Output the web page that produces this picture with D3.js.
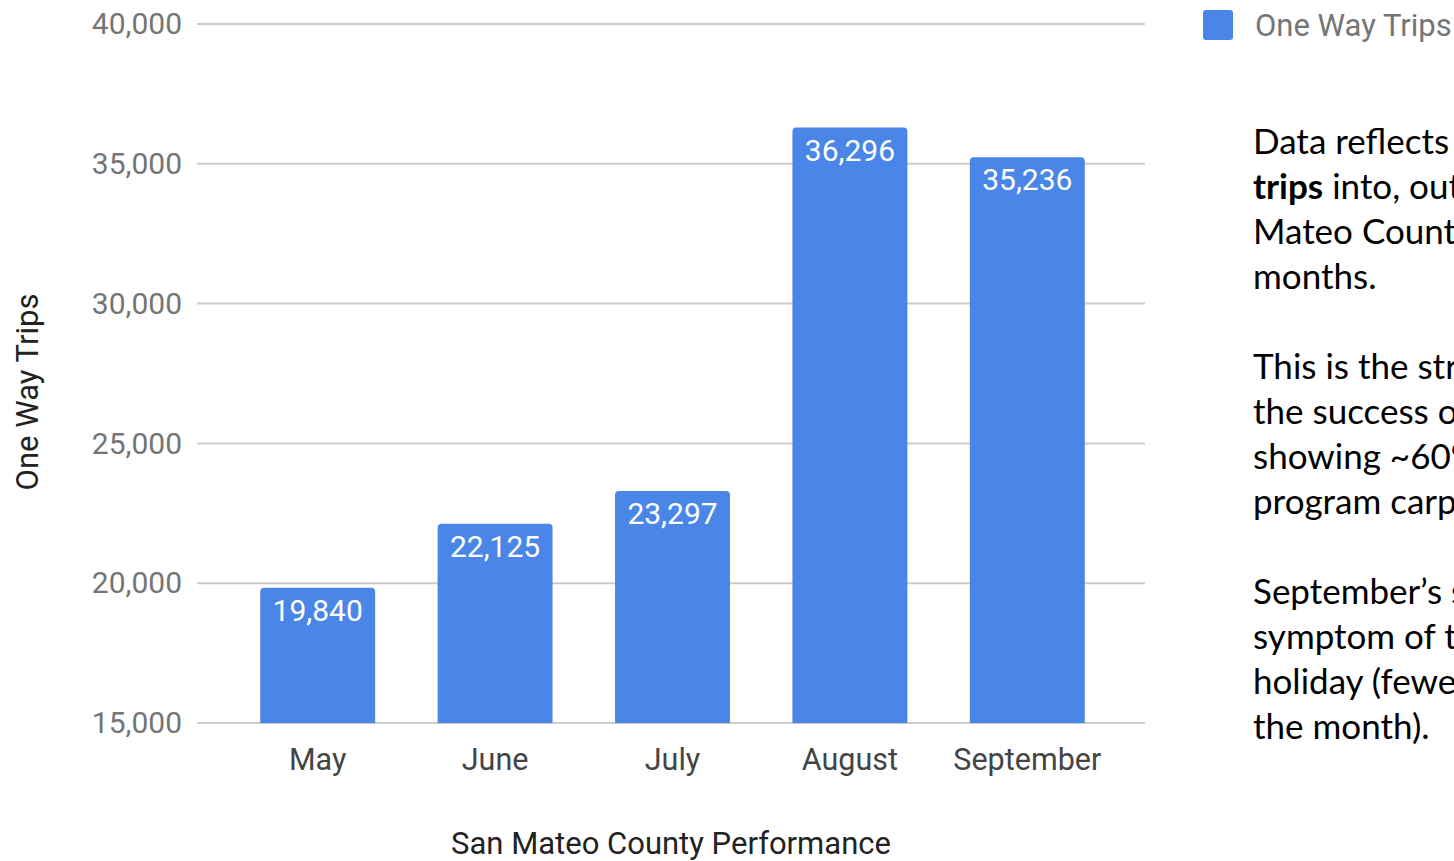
<!DOCTYPE html>
<html>
<head>
<meta charset="utf-8">
<script src="https://cdn.jsdelivr.net/npm/d3@7"></script>
<style>
  body { margin: 0; background: #fff; overflow: hidden; }
  svg { display: block; }
</style>
</head>
<body>
<script>
// chart data
var months = ["May", "June", "July", "August", "September"];
var trips = [19840, 22125, 23297, 36296, 35236];
var yTicks = [15000, 20000, 25000, 30000, 35000, 40000];
var seriesName = "One Way Trips";
var xTitle = "San Mateo County Performance";
var yTitle = "One Way Trips";

// side note, each line is a list of [text, bold]
var noteLines = [
  [["Data reflects Scoop carpool", false]],
  [["trips", true], [" into, out of, and within San", false]],
  [["Mateo County over the last five", false]],
  [["months.", false]],
  [],
  [["This is the strongest indicator of", false]],
  [["the success of the program, with", false]],
  [["showing ~60% growth since the", false]],
  [["program carpool launch.", false]],
  [],
  [["September\u2019s slight dip is a", false]],
  [["symptom of the Labor Day", false]],
  [["holiday (fewer work days in", false]],
  [["the month).", false]]
];

var W = 1454, H = 861;
var blue = "#4a86e8";

var svg = d3.select("body").append("svg")
    .attr("width", W)
    .attr("height", H);

var x = d3.scaleBand()
    .domain(months)
    .range([229, 1116])
    .paddingInner(0.352)
    .paddingOuter(0.176);

var y = d3.scaleLinear()
    .domain([15000, 40000])
    .range([723, 24]);

var fmt = d3.format(",");

// gridlines
svg.append("g")
  .selectAll("line")
  .data(yTicks)
  .join("line")
    .attr("x1", 197)
    .attr("x2", 1145)
    .attr("y1", d => y(d))
    .attr("y2", d => y(d))
    .attr("stroke", "#cccccc")
    .attr("stroke-width", 2);

// y axis labels
var yAxis = svg.append("g")
    .attr("transform", "translate(182,0)")
    .call(d3.axisLeft(y).tickValues(yTicks).tickFormat(fmt).tickSize(0).tickPadding(0));
yAxis.select(".domain").remove();
yAxis.selectAll("text")
    .attr("font-family", "Roboto")
    .attr("font-size", 30)
    .attr("fill", "#757575");

// bars with rounded tops
var r = 4;
svg.append("g")
  .selectAll("path")
  .data(trips)
  .join("path")
    .attr("fill", blue)
    .attr("d", function(d, i) {
      var x0 = x(months[i]), x1 = x0 + x.bandwidth();
      var t = y(d), b = y(15000);
      return "M" + x0 + "," + b + "V" + (t + r) +
        "Q" + x0 + "," + t + " " + (x0 + r) + "," + t +
        "H" + (x1 - r) +
        "Q" + x1 + "," + t + " " + x1 + "," + (t + r) +
        "V" + b + "Z";
    });

// value labels
svg.append("g")
  .selectAll("text")
  .data(trips)
  .join("text")
    .attr("x", (d, i) => x(months[i]) + x.bandwidth() / 2)
    .attr("y", d => y(d) + 33)
    .attr("text-anchor", "middle")
    .attr("font-family", "Roboto")
    .attr("font-size", 30)
    .attr("fill", "#ffffff")
    .text(d => fmt(d));

// x axis labels
var xAxis = svg.append("g")
    .attr("transform", "translate(0,723)")
    .call(d3.axisBottom(x).tickSize(0).tickPadding(47));
xAxis.select(".domain").remove();
xAxis.selectAll("text")
    .attr("dy", 0)
    .attr("font-family", "Roboto")
    .attr("font-size", 30.5)
    .attr("fill", "#444444");

// axis titles
svg.append("text")
    .attr("x", 671)
    .attr("y", 854)
    .attr("text-anchor", "middle")
    .attr("font-family", "Roboto")
    .attr("font-size", 31)
    .attr("fill", "#222222")
    .text(xTitle);

svg.append("text")
    .attr("transform", "translate(38,392) rotate(-90)")
    .attr("text-anchor", "middle")
    .attr("font-family", "Roboto")
    .attr("font-size", 31)
    .attr("fill", "#222222")
    .text(yTitle);

// legend
svg.append("rect")
    .attr("x", 1203)
    .attr("y", 10)
    .attr("width", 30)
    .attr("height", 30)
    .attr("rx", 3)
    .attr("fill", blue);
svg.append("text")
    .attr("x", 1255)
    .attr("y", 36)
    .attr("font-family", "Roboto")
    .attr("font-size", 31)
    .attr("fill", "#757575")
    .text(seriesName);

// side note
var note = svg.append("g")
    .attr("font-family", "Lato")
    .attr("font-size", 35)
    .attr("fill", "#000000");
note.selectAll("text")
  .data(noteLines)
  .join("text")
    .attr("x", 1253)
    .attr("y", (d, i) => 154 + i * 45)
  .selectAll("tspan")
  .data(d => d)
  .join("tspan")
    .attr("font-weight", d => d[1] ? "bold" : "normal")
    .text(d => d[0]);
</script>
</body>
</html>
